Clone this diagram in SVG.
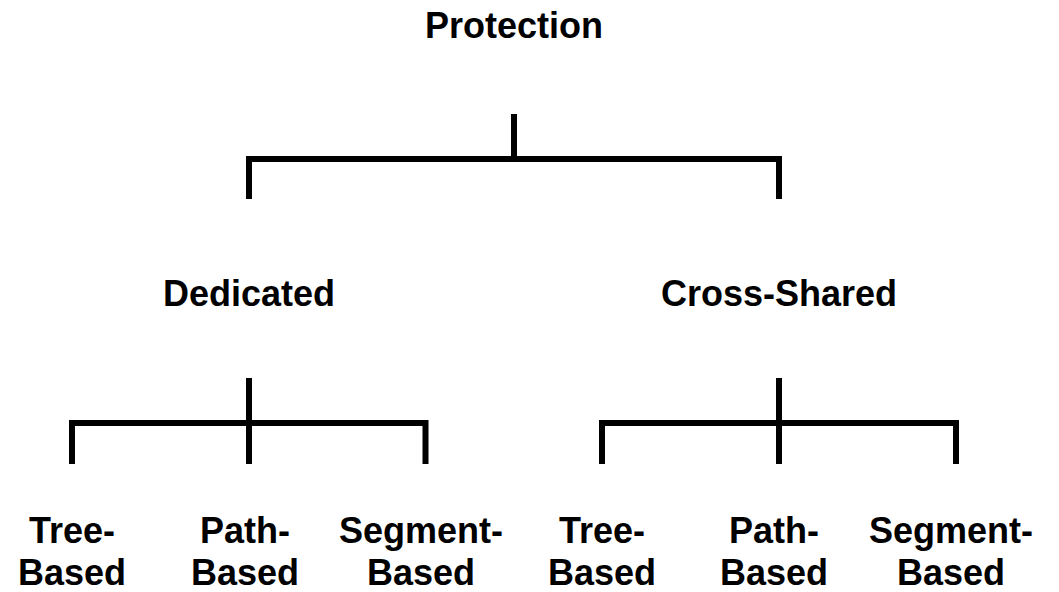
<svg xmlns="http://www.w3.org/2000/svg" width="1059" height="592" viewBox="0 0 1059 592">
  <style>
    .lbl { font-family: "Liberation Sans", Arial, sans-serif; font-weight: bold; font-size: 36px; fill: #000; text-anchor: middle; }
    .br { fill: none; stroke: #000; stroke-width: 6; stroke-linecap: butt; stroke-linejoin: miter; }
  </style>
  <rect width="1059" height="592" fill="#fff"/>

  <!-- connectors: bracket trees -->
  <g id="connectors">
    <path class="br" d="M514 114 V159"/>
    <path class="br" d="M249 199 V159 H779 V199"/>
    <path class="br" d="M249 378 V464"/>
    <path class="br" d="M72 464 V423 H425.5 V464"/>
    <path class="br" d="M779 378 V464"/>
    <path class="br" d="M602 464 V423 H956 V464"/>
  </g>

  <g id="protection"><text class="lbl" x="514" y="38">Protection</text></g>
  <g id="dedicated"><text class="lbl" x="249" y="306">Dedicated</text></g>
  <g id="cross-shared"><text class="lbl" x="779" y="306">Cross-Shared</text></g>

  <g id="ded-tree"><text class="lbl" x="72" y="543">Tree-</text><text class="lbl" x="72" y="585">Based</text></g>
  <g id="ded-path"><text class="lbl" x="245" y="543">Path-</text><text class="lbl" x="245" y="585">Based</text></g>
  <g id="ded-segment"><text class="lbl" x="421" y="543">Segment-</text><text class="lbl" x="421" y="585">Based</text></g>

  <g id="cs-tree"><text class="lbl" x="602" y="543">Tree-</text><text class="lbl" x="602" y="585">Based</text></g>
  <g id="cs-path"><text class="lbl" x="774" y="543">Path-</text><text class="lbl" x="774" y="585">Based</text></g>
  <g id="cs-segment"><text class="lbl" x="951" y="543">Segment-</text><text class="lbl" x="951" y="585">Based</text></g>
</svg>
